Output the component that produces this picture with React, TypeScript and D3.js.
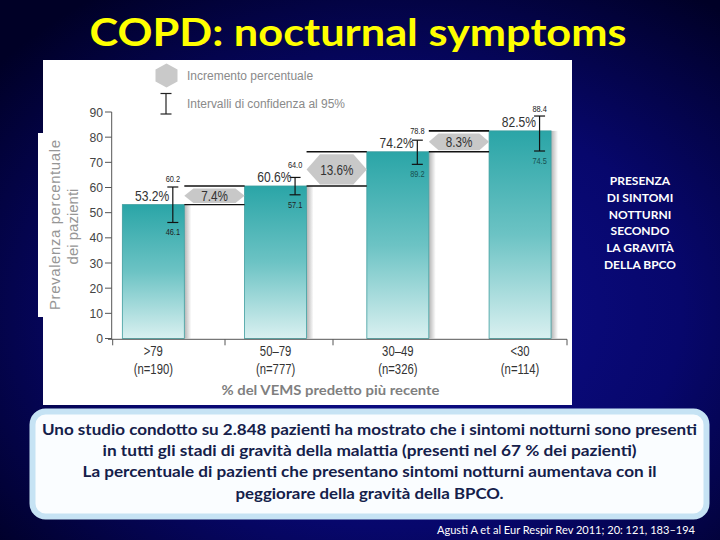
import React from "react";
import * as d3 from "d3";

// ---- data ----
const categories = [">79", "50–79", "30–49", "<30"];
const sampleSizes = ["(n=190)", "(n=777)", "(n=326)", "(n=114)"];
const prevalence = [53.2, 60.6, 74.2, 82.5];
const ciHigh = [60.2, 64.0, 78.8, 88.4];
const ciLow = [46.1, 57.1, 69.2, 74.5];
const ciHighLabels = ["60.2", "64.0", "78.8", "88.4"];
const ciLowLabels = ["46.1", "57.1", "89.2", "74.5"];
const increments = ["7.4%", "13.6%", "8.3%"];
const yTicks = [0, 10, 20, 30, 40, 50, 60, 70, 80, 90];
const sideText = ["PRESENZA", "DI SINTOMI", "NOTTURNI", "SECONDO", "LA GRAVITÀ", "DELLA BPCO"];
const noteLines = [
  "Uno studio condotto su 2.848 pazienti ha mostrato che i sintomi notturni sono presenti",
  "in tutti gli stadi di gravità della malattia (presenti nel 67 % dei pazienti)",
  "La percentuale di pazienti che presentano sintomi notturni aumentava con il",
  "peggiorare della gravità della BPCO.",
];
const noteWidths = [655, 534, 574, 268];

const ARIAL = "'Liberation Sans', Arial, sans-serif";
const CAL = "Lato, 'Open Sans', sans-serif";

function hexPath(x0: number, x1: number, y0: number, y1: number, inset: number) {
  const ym = (y0 + y1) / 2;
  return `M${x0},${ym}L${x0 + inset},${y0}L${x1 - inset},${y0}L${x1},${ym}L${x1 - inset},${y1}L${x0 + inset},${y1}Z`;
}

// condensed (Arial-Narrow-like) text
function NText(props: {
  x: number;
  y: number;
  size: number;
  anchor?: string;
  fill?: string;
  children: React.ReactNode;
}) {
  return (
    <text
      transform={`translate(${props.x},${props.y}) scale(0.78,1)`}
      textAnchor={props.anchor || "middle"}
      fontFamily={ARIAL}
      fontSize={props.size}
      fill={props.fill || "#333"}
    >
      {props.children}
    </text>
  );
}

export default function App() {
  const y = d3.scaleLinear().domain([0, 90]).range([338.5, 112]);
  const x = d3
    .scaleBand<string>()
    .domain(categories)
    .range([92.2, 581.2])
    .paddingInner(0.493)
    .paddingOuter(0.2465);
  const bw = x.bandwidth();
  const axisY = y(0) + 0.8;
  const yAxisX = 111.7;
  const xAxisStart = 108;
  const xAxisEnd = 567;
  const xAxisTicks = [112.7, 225, 333, 567];

  return (
    <svg
      width={720}
      height={540}
      style={{ position: "absolute", left: 0, top: 0, display: "block" }}
    >
      <defs>
        <radialGradient id="bg" cx="0.55" cy="0.58" r="0.72">
          <stop offset="0" stopColor="#0e0e8e" />
          <stop offset="0.55" stopColor="#07076c" />
          <stop offset="1" stopColor="#000026" />
        </radialGradient>
        <linearGradient id="barGrad" x1="0" y1="0" x2="0" y2="1">
          <stop offset="0" stopColor="#2aa5a7" />
          <stop offset="0.5" stopColor="#6cc3c4" />
          <stop offset="1" stopColor="#d9f0f0" />
        </linearGradient>
        <linearGradient id="shadow" x1="0" y1="0" x2="1" y2="0">
          <stop offset="0" stopColor="#000" stopOpacity="0.3" />
          <stop offset="1" stopColor="#000" stopOpacity="0" />
        </linearGradient>
      </defs>

      {/* background */}
      <rect x={0} y={0} width={720} height={540} fill="url(#bg)" />

      {/* title */}
      <text
        x={358}
        y={46}
        textAnchor="middle"
        fontFamily={CAL}
        fontWeight="bold"
        fontSize={38}
        fill="#ffff00"
        textLength={537}
        lengthAdjust="spacingAndGlyphs"
      >
        COPD: nocturnal symptoms
      </text>

      {/* chart panel */}
      <rect x={43} y={60} width={529} height={345} fill="#fff" />
      <rect x={38} y={133} width={52} height={184} fill="#fff" />

      {/* legend */}
      <path
        d="M166.5,63.5L177.5,69.5L177.5,81.5L166.5,87.5L155.5,81.5L155.5,69.5Z"
        fill="#c9c9c9"
      />
      <text x={187} y={79.5} fontFamily={ARIAL} fontSize={12} fill="#8a8a8a">
        Incremento percentuale
      </text>
      <g stroke="#222" strokeWidth={1.2}>
        <line x1={166} x2={166} y1={93.5} y2={114} />
        <line x1={160.5} x2={171.5} y1={93.5} y2={93.5} />
        <line x1={160.5} x2={171.5} y1={114} y2={114} />
      </g>
      <text x={187} y={108} fontFamily={ARIAL} fontSize={12} fill="#8a8a8a" textLength={158}>
        Intervalli di confidenza al 95%
      </text>

      {/* y axis title */}
      <text
        transform={`translate(59.5,225) rotate(-90)`}
        textAnchor="middle"
        fontFamily={ARIAL}
        fontSize={15}
        fill="#969696"
        textLength={170}
      >
        Prevalenza percentuale
      </text>
      <text
        transform={`translate(78,226.5) rotate(-90)`}
        textAnchor="middle"
        fontFamily={ARIAL}
        fontSize={15}
        fill="#969696"
      >
        dei pazienti
      </text>

      {/* y axis */}
      <line x1={yAxisX} x2={yAxisX} y1={y(90)} y2={axisY} stroke="#555" strokeWidth={1} />
      {yTicks.map((t) => (
        <g key={t}>
          <line x1={105} x2={yAxisX} y1={y(t)} y2={y(t)} stroke="#555" strokeWidth={1} />
          <text
            transform={`translate(103,${y(t) + 4.5}) scale(0.9,1)`}
            textAnchor="end"
            fontFamily={ARIAL}
            fontSize={13.5}
            fill="#444"
          >
            {t}
          </text>
        </g>
      ))}

      {/* bars */}
      {categories.map((c, i) => {
        const x0 = x(c)!;
        const top = y(prevalence[i]);
        return (
          <g key={c}>
            <rect x={x0 + bw} y={top} width={7} height={y(0) - top} fill="url(#shadow)" />
            <rect
              x={x0}
              y={top}
              width={bw}
              height={y(0) - top}
              fill="url(#barGrad)"
              stroke="#3d9d9e"
              strokeWidth={0.8}
            />
          </g>
        );
      })}

      {/* increments */}
      {increments.map((lab, i) => {
        const x0 = x(categories[i])! + bw;
        const x1 = x(categories[i + 1])!;
        const yTop = y(prevalence[i + 1]);
        const yBot = y(prevalence[i]);
        const h0 = yTop + 2.5;
        const h1 = yBot - 1.5;
        const inset = 5 + (h1 - h0) * 0.28;
        return (
          <g key={lab}>
            <line x1={x0} x2={x1} y1={yTop} y2={yTop} stroke="#111" strokeWidth={1.6} />
            <line x1={x0} x2={x1} y1={yBot} y2={yBot} stroke="#111" strokeWidth={1.4} />
            <path d={hexPath(x0, x1, h0, h1, inset)} fill="#c8c8c8" />
            <NText x={(x0 + x1) / 2} y={(h0 + h1) / 2 + 5.5} size={15}>
              {lab}
            </NText>
          </g>
        );
      })}

      {/* error bars and labels */}
      {categories.map((c, i) => {
        const ex = x(c)! + bw - 11.5;
        const yh = y(ciHigh[i]);
        const yl = y(ciLow[i]);
        const vBase = y(prevalence[i]) - 3.5;
        const inside = i >= 2;
        return (
          <g key={c}>
            <g stroke="#111" strokeWidth={1.2}>
              <line x1={ex} x2={ex} y1={yh} y2={yl} />
              <line x1={ex - 5.5} x2={ex + 5.5} y1={yh} y2={yh} />
              <line x1={ex - 5.5} x2={ex + 5.5} y1={yl} y2={yl} />
            </g>
            <NText x={ex} y={Math.min(yh - 4.5, vBase - 14)} size={9.5} fill="#222">
              {ciHighLabels[i]}
            </NText>
            <NText x={ex} y={yl + 13} size={9.5} fill={inside ? "#17504f" : "#222"}>
              {ciLowLabels[i]}
            </NText>
            <NText x={ex - 3.5} y={vBase} size={15.5} anchor="end" fill="#333">
              {prevalence[i].toFixed(1) + "%"}
            </NText>
          </g>
        );
      })}

      {/* x axis */}
      <line x1={xAxisStart} x2={xAxisEnd} y1={axisY} y2={axisY} stroke="#555" strokeWidth={1} />
      {xAxisTicks.map((t) => (
        <line key={t} x1={t} x2={t} y1={axisY} y2={axisY + 6} stroke="#555" strokeWidth={1} />
      ))}
      {categories.map((c, i) => {
        const cx = x(c)! + bw / 2;
        return (
          <g key={c}>
            <NText x={cx} y={356} size={14.5}>
              {c}
            </NText>
            <NText x={cx} y={374} size={14.5}>
              {sampleSizes[i]}
            </NText>
          </g>
        );
      })}
      <text
        x={330.5}
        y={395}
        textAnchor="middle"
        fontFamily={CAL}
        fontWeight="bold"
        fontSize={13.5}
        fill="#7f7f7f"
        textLength={218}
        lengthAdjust="spacingAndGlyphs"
      >
        % del VEMS predetto più recente
      </text>

      {/* side text */}
      {sideText.map((s, i) => (
        <text
          key={s}
          x={640}
          y={185 + i * 16.8}
          textAnchor="middle"
          fontFamily={CAL}
          fontWeight="bold"
          fontSize={12}
          fill="#fff"
        >
          {s}
        </text>
      ))}

      {/* note box */}
      <rect
        x={32.5}
        y={411.5}
        width={674}
        height={105}
        rx={13}
        fill="#fafdff"
        stroke="#c6e3f4"
        strokeWidth={6}
      />
      {noteLines.map((s, i) => (
        <text
          key={i}
          x={369.5}
          y={435 + i * 21.2}
          textAnchor="middle"
          fontFamily={CAL}
          fontWeight="bold"
          fontSize={15.5}
          fill="#14204a"
          textLength={noteWidths[i]}
          lengthAdjust="spacingAndGlyphs"
        >
          {s}
        </text>
      ))}

      {/* citation */}
      <text
        x={695}
        y={534}
        textAnchor="end"
        fontFamily={CAL}
        fontSize={11}
        fill="#fff"
        textLength={258}
        lengthAdjust="spacingAndGlyphs"
      >
        Agusti A et al Eur Respir Rev 2011; 20: 121, 183–194
      </text>
    </svg>
  );
}
